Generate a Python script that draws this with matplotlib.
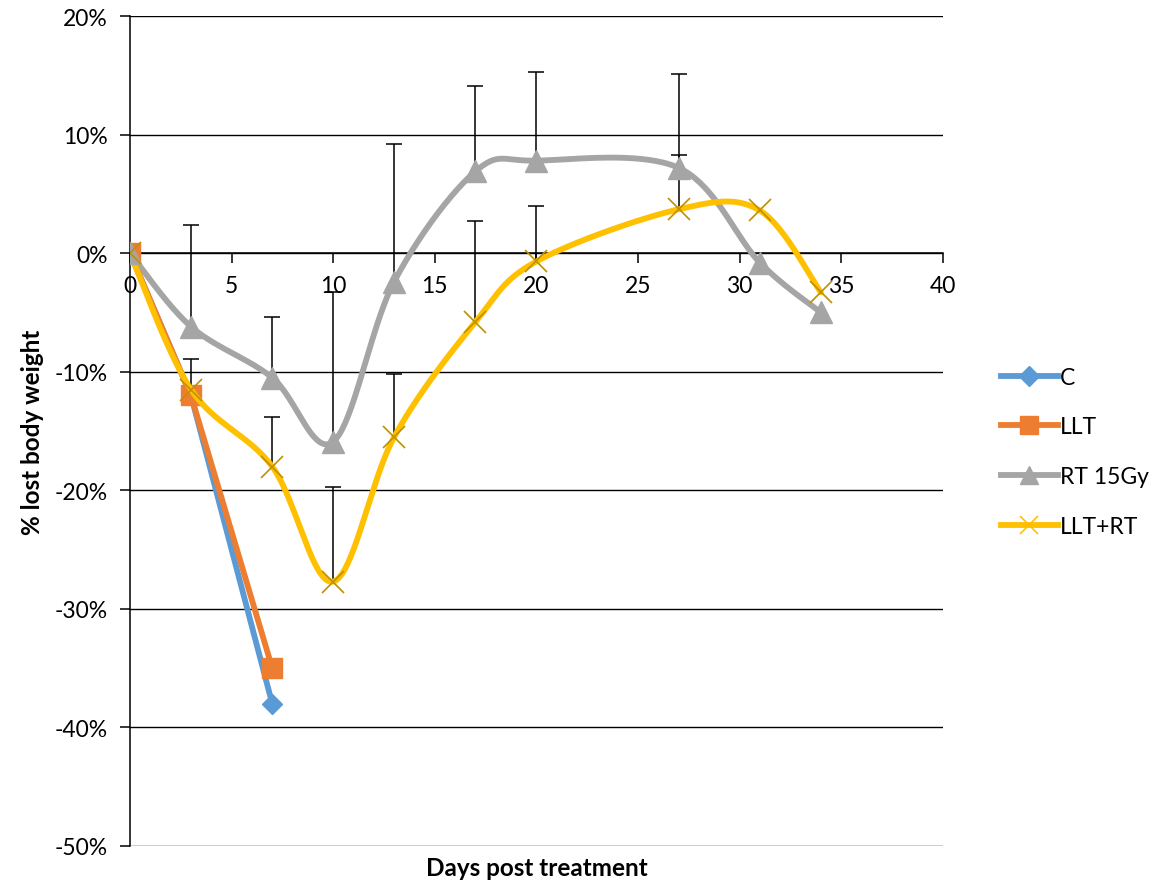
import numpy as np
import matplotlib
matplotlib.use("Agg")
import matplotlib.pyplot as plt
from matplotlib.ticker import PercentFormatter
from matplotlib.lines import Line2D

plt.rcParams['font.family'] = ['Lato', 'DejaVu Sans']
plt.rcParams['axes.unicode_minus'] = False

# data (percent of body weight lost)
days_c = [0, 3, 7]
c_vals = [0, -12.0, -38.0]
llt_vals = [0, -12.0, -35.0]

days = [0, 3, 7, 10, 13, 17, 20, 27, 31, 34]
rt_vals = [0, -6.2, -10.5, -15.9, -2.4, 6.9, 7.8, 7.2, -0.8, -5.0]
rt_top = [np.nan, 2.4, -5.4, -3.3, 9.2, 14.1, 15.3, 15.1, np.nan, np.nan]
lltrt_vals = [0, -11.5, -18.0, -27.7, -15.5, -5.8, -0.7, 3.7, 3.6, -3.3]
lltrt_top = [np.nan, -8.9, -13.8, -19.7, -10.2, 2.7, 4.0, 8.3, np.nan, np.nan]

labels = ['C', 'LLT', 'RT 15Gy', 'LLT+RT']
colors = ['#5B9BD5', '#ED7D31', '#A5A5A5', '#FFC000']


def smooth(x, y, n=40):
    # excel-style smoothed line: bezier through points, catmull-rom handles
    p = np.column_stack([x, y]).astype(float)
    out = []
    for i in range(len(p) - 1):
        p0 = p[i - 1] if i > 0 else p[i]
        p3 = p[i + 2] if i + 2 < len(p) else p[i + 1]
        c1 = p[i] + (p[i + 1] - p0) / 6
        c2 = p[i + 1] - (p3 - p[i]) / 6
        t = np.linspace(0, 1, n)[:, None]
        seg = ((1 - t) ** 3) * p[i] + 3 * ((1 - t) ** 2) * t * c1 + 3 * (1 - t) * t ** 2 * c2 + t ** 3 * p[i + 1]
        out.append(seg if i == 0 else seg[1:])
    s = np.vstack(out)
    return s[:, 0], s[:, 1]


fig = plt.figure(figsize=(11.61, 8.87), dpi=100)
ax = fig.add_axes([0.112, 0.0451, 0.700, 0.9357])

lw = 4.2
# error bars, plus direction only, cap on top
for vals, top in [(rt_vals, rt_top), (lltrt_vals, lltrt_top)]:
    v = np.array(vals)
    tp = np.array(top)
    mask = ~np.isnan(tp)
    xd = np.array(days)[mask]
    ax.vlines(xd, v[mask], tp[mask], color='black', lw=1.1, zorder=2)
    ax.plot(xd, tp[mask], ls='none', marker='_', ms=11.5, mew=1.1, color='black', zorder=2)

ax.plot(days_c, c_vals, color=colors[0], lw=lw, marker='D', ms=10,
        mfc=colors[0], mec=colors[0], zorder=3)
ax.plot(days_c, llt_vals, color=colors[1], lw=lw, marker='s', ms=14,
        mfc=colors[1], mec=colors[1], zorder=4)

sx, sy = smooth(days, rt_vals)
ax.plot(sx, sy, color=colors[2], lw=lw, zorder=3, solid_capstyle='round')
ax.plot(days, rt_vals, ls='none', marker='^', ms=16, mfc=colors[2], mec=colors[2], zorder=5)

sx, sy = smooth(days, lltrt_vals)
ax.plot(sx, sy, color=colors[3], lw=lw, zorder=4, solid_capstyle='round')
ax.plot(days, lltrt_vals, ls='none', marker='x', ms=16, mew=1.2, color='#BF9000', zorder=6)

ax.set_xlim(0, 40)
ax.set_ylim(-50, 20)
ax.set_xticks(range(0, 41, 5))
ax.set_yticks(range(-50, 21, 10))
ax.yaxis.set_major_formatter(PercentFormatter(xmax=100, decimals=0))
ax.grid(axis='y', color='black', lw=1)
ax.set_axisbelow(True)

ax.spines['bottom'].set_position(('data', 0))
ax.spines['top'].set_visible(False)
ax.spines['right'].set_visible(False)
for s in ['left', 'bottom']:
    ax.spines[s].set_linewidth(1.1)
ax.tick_params(axis='both', direction='out', length=7, width=1.1, labelsize=16.5, colors='black')
ax.tick_params(axis='y', pad=9)
ax.tick_params(axis='x', pad=9)

fig.text(0.462, 0.021, 'Days post treatment', ha='center', va='center',
         fontsize=17.5, fontweight='bold')
fig.text(0.028, 0.513, '% lost body weight', ha='center', va='center',
         rotation=90, fontsize=17.5, fontweight='bold')

handles = [
    Line2D([], [], color=colors[0], lw=lw, marker='D', ms=10, mfc=colors[0], mec=colors[0]),
    Line2D([], [], color=colors[1], lw=lw, marker='s', ms=13, mfc=colors[1], mec=colors[1]),
    Line2D([], [], color=colors[2], lw=lw, marker='^', ms=13, mfc=colors[2], mec=colors[2]),
    Line2D([], [], color=colors[3], lw=lw, marker='x', ms=13, mew=1.2, mec='#FFC000'),
]
ax.legend(handles, labels, loc='center left', bbox_to_anchor=(1.06, 0.475), frameon=False,
          fontsize=16.5, handlelength=2.5, handletextpad=0.1, labelspacing=1.25, borderaxespad=0)

fig.savefig('out.png', dpi=100)
